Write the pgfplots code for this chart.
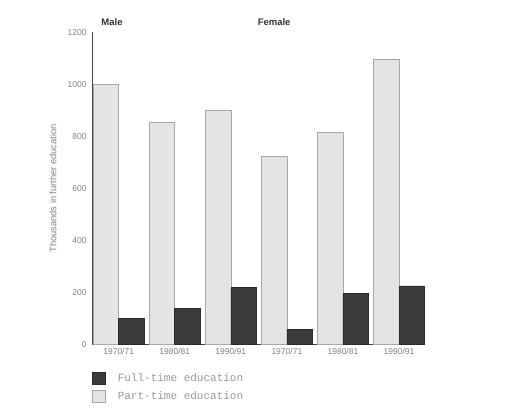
\documentclass[border=0pt]{standalone}
\usepackage{fontspec}
\setmainfont{Liberation Sans}
\newfontfamily\legfont{Liberation Mono}
\usepackage{pgfplots}
\pgfplotsset{compat=1.18}

\definecolor{fullfill}{HTML}{3B3B3B}
\definecolor{fulldraw}{HTML}{2A2A2A}
\definecolor{partfill}{HTML}{E4E4E4}
\definecolor{partdraw}{HTML}{A8A8A8}
\definecolor{axisgray}{HTML}{444444}
\definecolor{tickgray}{HTML}{808080}
\definecolor{leggray}{HTML}{999999}
\definecolor{titlegray}{HTML}{333333}

\pgfplotsset{
  sqlegend/.style={legend image code/.code={%
    \draw[##1,line width=0.6pt] (0bp,-6bp) rectangle (13bp,6bp);
    \path (23bp,0bp);}},
}

\begin{document}
\begin{tikzpicture}[x=1bp,y=1bp]
\path (0,0) rectangle (512,419);
\begin{axis}[
  at={(92bp,74.7bp)}, anchor=south west,
  scale only axis, width=333bp, height=312bp,
  xmin=-0.476, xmax=5.464, ymin=0, ymax=1200,
  axis x line*=bottom, axis y line*=left,
  axis line style={axisgray, line width=0.8pt},
  major tick length=0pt,
  ybar=0pt, bar width=25.5bp,
  xtick={0,1,2,3,4,5},
  xticklabels={1970/71,1980/81,1990/91,1970/71,1980/81,1990/91},
  ytick={0,200,400,600,800,1000,1200},
  /pgf/number format/assume math mode=true,
  /pgf/number format/1000 sep={},
  ticklabel style={font=\fontsize{8.5bp}{10bp}\selectfont, text=tickgray},
  yticklabel style={xshift=-2bp},
  xticklabel style={yshift=-1bp},
  ylabel={Thousands in further education},
  ylabel style={at={(axis description cs:-0.117,0.5)}, anchor=center,
    font=\fontsize{9.3bp}{11bp}\selectfont, text=tickgray},
  reverse legend,
  legend style={draw=none, fill=none, inner sep=0pt, row sep=5bp,
    at={(axis description cs:0,-0.0856)}, anchor=north west,
    font=\fontsize{11bp}{13bp}\legfont, text=leggray,
    cells={anchor=west}},
  clip=false,
]
\addplot[fill=partfill, draw=partdraw, line width=0.6pt, sqlegend]
  coordinates {(0,1000) (1,852) (2,900) (3,724) (4,814) (5,1098)};
\addlegendentry{Part-time education}
\addplot[fill=fullfill, draw=fulldraw, line width=0.6pt, sqlegend]
  coordinates {(0,100) (1,137) (2,218) (3,58) (4,195) (5,225)};
\addlegendentry{Full-time education}
\node[font=\fontsize{9.5bp}{11bp}\selectfont\bfseries, text=titlegray]
  at (axis description cs:0.06,1.033) {Male};
\node[font=\fontsize{9.5bp}{11bp}\selectfont\bfseries, text=titlegray]
  at (axis description cs:0.547,1.033) {Female};
\end{axis}
\end{tikzpicture}
\end{document}
